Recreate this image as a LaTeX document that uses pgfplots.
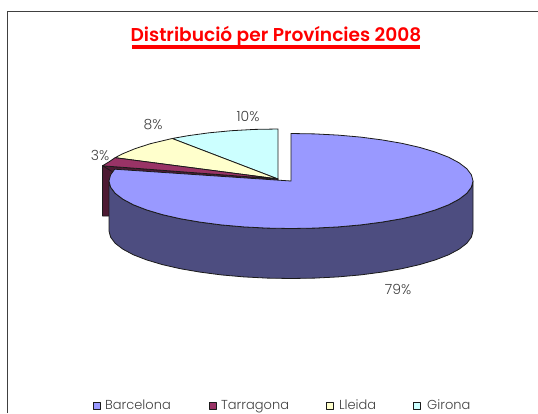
\documentclass[border=0pt]{standalone}
\usepackage{fontspec}
\setmainfont{Poppins}[UprightFont=* Light,BoldFont=* SemiBold]
\usepackage{pgfplots}
\pgfplotsset{compat=1.18}
\definecolor{cBcn}{HTML}{9999FF}
\definecolor{cBcnSide}{HTML}{4D4D80}
\definecolor{cTar}{HTML}{993366}
\definecolor{cTarSide}{HTML}{4D1A33}
\definecolor{cLle}{HTML}{FFFFCC}
\definecolor{cGir}{HTML}{CCFFFF}
\definecolor{cLine}{HTML}{1A1A1A}
\definecolor{cText}{HTML}{404040}
\definecolor{cTitle}{HTML}{FF0000}
\begin{document}
\begin{tikzpicture}[x=1pt,y=1pt]
  \useasboundingbox (0,0) rectangle (538,413);
  \begin{axis}[
    at={(0,0)}, anchor=south west,
    scale only axis,
    width=538pt, height=413pt,
    xmin=0, xmax=538,
    ymin=0, ymax=413,
    y dir=reverse,
    hide axis,
    clip=false,
    every axis plot/.append style={line join=round, line width=0.8pt, draw=cLine},
  ]
  % chart area border, open on the right
  \addplot[draw=black!75, line width=1.2pt, no marks] coordinates {(7.5,413) (7.5,11.5) (538,11.5)};

  % Girona 10%
  \addplot[fill=cGir, no marks] coordinates {
    (278,179) (172.2,138.5) (188,135.7) (209.1,132.8) (231.4,130.7) (254.5,129.4) (278,129)
  } -- cycle;
  % Lleida 8%
  \addplot[fill=cLle, no marks] coordinates {
    (278,179) (115.1,157.7) (122.1,154) (135.2,148.6) (150.7,143.6) (172.2,138.5)
  } -- cycle;
  % Tarragona 3%: outer wall, cut face, top
  \addplot[fill=cTarSide, no marks] coordinates {
    (102.5,165.8) (102.5,216) (113,216) (113,168)
  } -- cycle;
  \addplot[fill=cTarSide, no marks] coordinates {
    (102.5,165.8) (278,179) (278,181.5) (113,172)
  } -- cycle;
  \addplot[fill=cTar, no marks] coordinates {
    (278,179) (102.5,165.8) (108.9,161.9) (115.1,157.7)
  } -- cycle;

  % Barcelona 79%: wall, then top
  \addplot[fill=cBcnSide, no marks] coordinates {
    (473,181) (471.4,187.2) (466.8,193.3) (459.1,199.2) (448.6,204.8) (435.4,209.9)
    (419.7,214.6) (401.8,218.7) (382,222.1) (360.7,224.9) (338.1,226.9) (314.8,228.1)
    (291,228.5) (267.2,228.1) (243.9,226.9) (221.3,224.9) (200,222.1) (180.2,218.7)
    (162.3,214.6) (146.6,209.9) (133.4,204.8) (122.9,199.2) (115.2,193.3) (110.6,187.2)
    (109,181)
    (109,231) (110.6,237.2) (115.2,243.3) (122.9,249.2) (133.4,254.8) (146.6,259.9)
    (162.3,264.6) (180.2,268.7) (200,272.1) (221.3,274.9) (243.9,276.9) (267.2,278.1)
    (291,278.5) (314.8,278.1) (338.1,276.9) (360.7,274.9) (382,272.1) (401.8,268.7)
    (419.7,264.6) (435.4,259.9) (448.6,254.8) (459.1,249.2) (466.8,243.3) (471.4,237.2)
    (473,231)
  } -- cycle;
  \addplot[fill=cBcn, no marks] coordinates {
    (291,181) (291,133.5) (314.8,133.9) (338.1,135.1) (360.7,137.1) (382,139.9)
    (401.8,143.3) (419.7,147.4) (435.4,152.1) (448.6,157.2) (459.1,162.8) (466.8,168.7)
    (471.4,174.8) (473,181) (471.4,187.2) (466.8,193.3) (459.1,199.2) (448.6,204.8)
    (435.4,209.9) (419.7,214.6) (401.8,218.7) (382,222.1) (360.7,224.9) (338.1,226.9)
    (314.8,228.1) (291,228.5) (267.2,228.1) (243.9,226.9) (221.3,224.9) (200,222.1)
    (180.2,218.7) (162.3,214.6) (146.6,209.9) (133.4,204.8) (122.9,199.2) (115.2,193.3)
    (110.6,187.2) (109,181) (110.6,174.8) (114.7,169.2)
  } -- cycle;

  % legend keys
  \addplot[only marks, mark=square*, mark size=3.2pt, mark options={fill=cBcn, draw=cLine, line width=0.7pt}] coordinates {(97,406)};
  \addplot[only marks, mark=square*, mark size=3.2pt, mark options={fill=cTar, draw=cLine, line width=0.7pt}] coordinates {(213,406)};
  \addplot[only marks, mark=square*, mark size=3.2pt, mark options={fill=cLle, draw=cLine, line width=0.7pt}] coordinates {(330,406)};
  \addplot[only marks, mark=square*, mark size=3.2pt, mark options={fill=cGir, draw=cLine, line width=0.7pt}] coordinates {(417,406)};

  % title
  \node[text=cTitle, font=\fontsize{18.6}{19}\selectfont\bfseries, anchor=center] at (axis cs:276,36) {Distribució per Províncies 2008};
  \draw[cTitle, line width=3.4pt] (axis cs:132,47) -- (axis cs:420,47);

  % percentages
  \node[text=cText, font=\fontsize{14}{14}\selectfont] at (axis cs:248,116) {10\%};
  \node[text=cText, font=\fontsize{14}{14}\selectfont] at (axis cs:153,125) {8\%};
  \node[text=cText, font=\fontsize{14}{14}\selectfont] at (axis cs:100,155) {3\%};
  \node[text=cText, font=\fontsize{14}{14}\selectfont] at (axis cs:398,289) {79\%};

  % legend text
  \node[text=cText, font=\fontsize{13}{13}\selectfont, anchor=base west, inner sep=0pt] at (axis cs:105,409.5) {Barcelona};
  \node[text=cText, font=\fontsize{13}{13}\selectfont, anchor=base west, inner sep=0pt] at (axis cs:221,409.5) {Tarragona};
  \node[text=cText, font=\fontsize{13}{13}\selectfont, anchor=base west, inner sep=0pt] at (axis cs:339,409.5) {Lleida};
  \node[text=cText, font=\fontsize{13}{13}\selectfont, anchor=base west, inner sep=0pt] at (axis cs:427,409.5) {Girona};
  \end{axis}
\end{tikzpicture}
\end{document}
